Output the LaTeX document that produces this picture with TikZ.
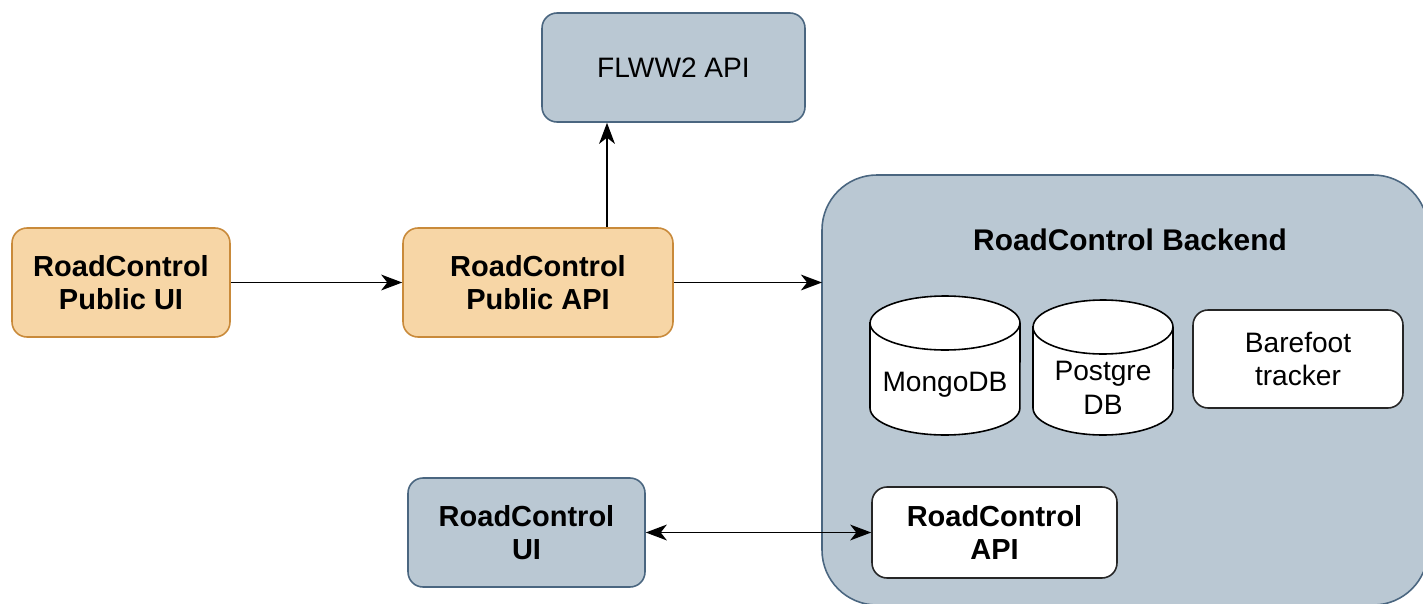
\documentclass[tikz,border=0pt]{standalone}
\usepackage{fontspec}
\setmainfont{Liberation Sans}
\usetikzlibrary{arrows.meta}

\definecolor{svcblue}{HTML}{BAC8D3}
\definecolor{svcline}{HTML}{4A6680}
\definecolor{pubfill}{HTML}{F7D6A6}
\definecolor{publine}{HTML}{C98A3A}

\tikzset{
  box/.style={draw, rounded corners=0.3cm, line width=0.9pt, align=center,
    font=\fontsize{16.5}{19}\selectfont\bfseries},
  pubbox/.style={box, fill=pubfill, draw=publine},
  svcbox/.style={box, fill=svcblue, draw=svcline},
  inbox/.style={box, fill=white, draw=black!85},
  plain/.style={font=\fontsize{16}{19}\selectfont, align=center},
  arr/.style={line width=1pt, -{Stealth[length=12pt, width=9pt, inset=3.5pt]}},
  darr/.style={line width=1pt, {Stealth[length=12pt, width=9pt, inset=3.5pt]}-{Stealth[length=12pt, width=9pt, inset=3.5pt]}}
}

\begin{document}
\begin{tikzpicture}[x=0.02cm, y=0.02cm]
\clip (0,0) rectangle (1423,603);
\fill[white] (0,0) rectangle (1423,603);

% backend frame
\draw[fill=svcblue, draw=svcline, line width=0.9pt, rounded corners=1.1cm] (822,-2) rectangle (1428,428);
\node[font=\fontsize{17}{20}\selectfont\bfseries] (backend) at (1130,363) {RoadControl Backend};
\coordinate (backendw) at (822,320.5);

\node[svcbox, minimum width=5.26cm, minimum height=2.18cm, font=\fontsize{16}{19}\selectfont] (flww) at (673.5,535.5) {FLWW2 API};
\node[pubbox, minimum width=4.36cm, minimum height=2.18cm] (pubui) at (121,320.5) {RoadControl\\Public UI};
\node[pubbox, minimum width=5.4cm, minimum height=2.18cm] (pubapi) at (538,320.5) {RoadControl\\Public API};
\node[svcbox, minimum width=4.74cm, minimum height=2.18cm] (rcui) at (526.5,70.5) {RoadControl\\UI};
\node[inbox, minimum width=4.9cm, minimum height=1.82cm] (rcapi) at (994.5,70.5) {RoadControl\\API};
\node[inbox, minimum width=4.2cm, minimum height=1.96cm, font=\fontsize{16}{19}\selectfont] (barefoot) at (1298,244) {Barefoot\\tracker};

% databases
\foreach \xa/\w/\yt in {870/150/307, 1033/140/303} {
  \draw[fill=white, line width=0.9pt] (\xa,\yt-27) -- (\xa,195)
    arc[start angle=180, end angle=360, x radius={\w*0.01cm}, y radius=0.54cm]
    -- (\xa+\w,\yt-27)
    arc[start angle=0, end angle=180, x radius={\w*0.01cm}, y radius=0.54cm] -- cycle;
  \draw[line width=0.9pt] (\xa,\yt-27)
    arc[start angle=180, end angle=360, x radius={\w*0.01cm}, y radius=0.54cm];
}
\node[plain] (mongo) at (945,218) {MongoDB};
\node[plain] (postgre) at (1103,215) {Postgre\\DB};

\draw[arr] (pubui) -- (pubapi);
\draw[arr] ([xshift=1.38cm]pubapi.north) -- ([xshift=1.38cm]pubapi.north |- flww.south);
\draw[arr] (pubapi.east) -- (backendw);
\draw[darr] (rcui) -- (rcapi);

\end{tikzpicture}
\end{document}
